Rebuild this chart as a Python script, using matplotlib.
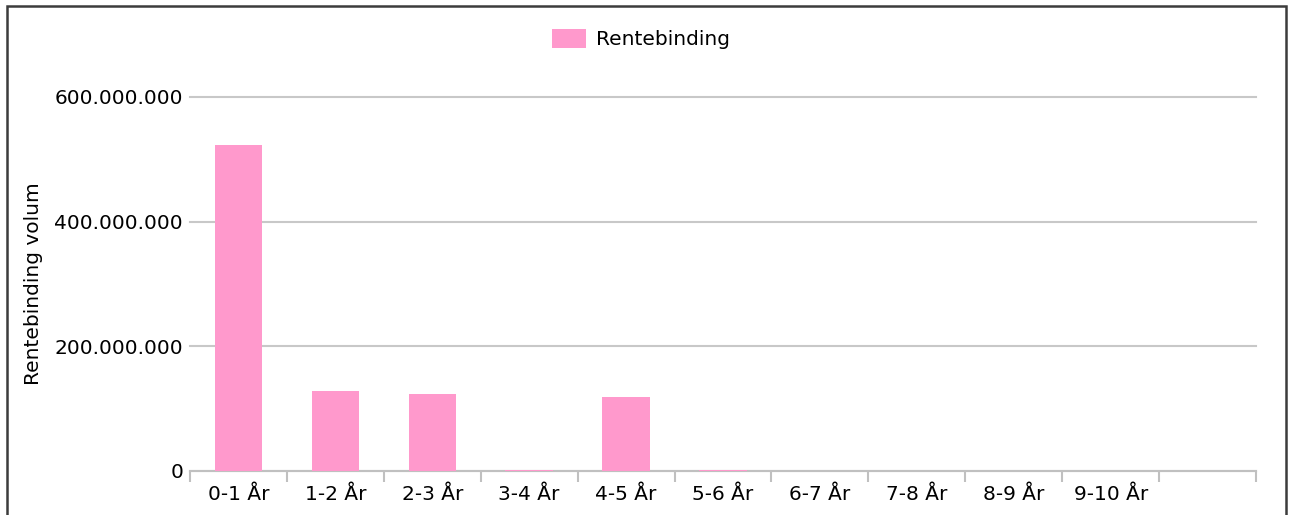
import numpy as np
import matplotlib
matplotlib.use('Agg')
import matplotlib.pyplot as plt
from matplotlib.patches import Rectangle
from matplotlib.ticker import FuncFormatter

categories = ['0-1 År', '1-2 År', '2-3 År', '3-4 År', '4-5 År', '5-6 År',
              '6-7 År', '7-8 År', '8-9 År', '9-10 År', '']
values = [523000000, 128000000, 123500000, 1000000, 119000000, 1000000,
          0, 0, 0, 0, 0]
yticks = [0, 200000000, 400000000, 600000000]

plt.rcParams['font.family'] = 'DejaVu Sans'
plt.rcParams['font.size'] = 14.5

fig = plt.figure(figsize=(12.9, 5.15), dpi=100)
ax = fig.add_axes([190/1290, 1-471/515, 1066/1290, (471-97)/515])

x = np.arange(len(categories))
ax.bar(x, values, width=0.49, color='#ff99cc', zorder=3)

ax.set_xlim(-0.5, len(categories) - 0.5)
ax.set_ylim(0, 600000000)
ax.set_yticks(yticks)
ax.yaxis.set_major_formatter(FuncFormatter(lambda v, p: '{:,.0f}'.format(v).replace(',', '.')))
ax.set_xticks(x)
ax.set_xticklabels(categories)
ax.set_xticks(np.arange(len(categories) + 1) - 0.5, minor=True)

ax.tick_params(axis='x', which='major', length=0, pad=10, labelsize=14.5)
ax.tick_params(axis='x', which='minor', length=8, width=1.5, color='#c0c0c0')
ax.tick_params(axis='y', length=0, pad=5, labelsize=14.5)
ax.grid(axis='y', color='#c8c8c8', linewidth=1.5, zorder=0)
for gl in ax.get_ygridlines():
    gl.set_clip_on(False)

for s in ['top', 'right', 'left']:
    ax.spines[s].set_visible(False)
ax.spines['bottom'].set_color('#c0c0c0')
ax.spines['bottom'].set_linewidth(1.5)

ax.set_ylabel('Rentebinding volum', fontsize=14.5)
ax.yaxis.set_label_coords(-0.138, 0.5)

fig.legend(['Rentebinding'], loc='center', bbox_to_anchor=(0.497, 0.924),
           frameon=False, handlelength=1.67, handleheight=1.08, handletextpad=0.5,
           fontsize=14.5)

fig.patches.append(Rectangle((7/1290, -0.02), 1279/1290, 1.02 - 6/515,
                             transform=fig.transFigure, fill=False,
                             edgecolor='#3c3c3c', linewidth=1.8))

plt.savefig('out.png', dpi=100)
